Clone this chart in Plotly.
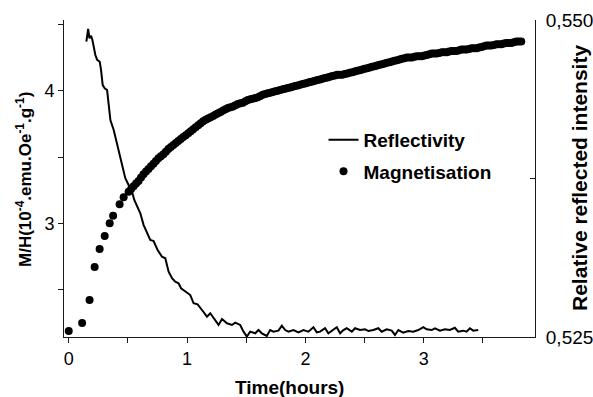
import plotly.graph_objects as go

# Magnetisation (left axis): time in hours, M/H in 1e-4 emu/Oe/g
mag_time = [0.000, 0.113, 0.176, 0.219, 0.261, 0.304, 0.346, 0.375, 0.430, 0.464, 0.506,
            0.527, 0.548, 0.569, 0.590, 0.611, 0.632, 0.653, 0.674, 0.695, 0.716, 0.737,
            0.758, 0.779, 0.800, 0.821, 0.842, 0.863, 0.884, 0.905, 0.926, 0.947, 0.968,
            0.989, 1.010, 1.031, 1.052, 1.073, 1.094, 1.115, 1.136, 1.157, 1.178, 1.199,
            1.220, 1.241, 1.262, 1.283, 1.304, 1.325, 1.346, 1.367, 1.388, 1.409, 1.430,
            1.451, 1.472, 1.493, 1.514, 1.535, 1.556, 1.577, 1.598, 1.619, 1.640, 1.661,
            1.682, 1.703, 1.724, 1.745, 1.766, 1.787, 1.808, 1.829, 1.850, 1.871, 1.892,
            1.913, 1.934, 1.955, 1.976, 1.997, 2.018, 2.039, 2.060, 2.081, 2.102, 2.123,
            2.144, 2.165, 2.186, 2.207, 2.228, 2.249, 2.270, 2.291, 2.312, 2.333, 2.354,
            2.375, 2.396, 2.417, 2.438, 2.459, 2.480, 2.501, 2.522, 2.543, 2.564, 2.585,
            2.606, 2.627, 2.648, 2.669, 2.690, 2.711, 2.732, 2.753, 2.774, 2.795, 2.816,
            2.837, 2.858, 2.879, 2.900, 2.921, 2.942, 2.963, 2.984, 3.005, 3.026, 3.047,
            3.068, 3.089, 3.110, 3.131, 3.152, 3.173, 3.194, 3.215, 3.236, 3.257, 3.278,
            3.299, 3.320, 3.341, 3.362, 3.383, 3.404, 3.425, 3.446, 3.467, 3.488, 3.509,
            3.530, 3.551, 3.572, 3.593, 3.614, 3.635, 3.656, 3.677, 3.698, 3.719, 3.740,
            3.761, 3.782, 3.803, 3.824]
mag_value = [2.188, 2.248, 2.422, 2.670, 2.806, 2.904, 3.000, 3.057, 3.143, 3.196, 3.238,
             3.259, 3.280, 3.300, 3.320, 3.345, 3.370, 3.390, 3.410, 3.430, 3.450, 3.470,
             3.490, 3.505, 3.520, 3.540, 3.560, 3.575, 3.590, 3.605, 3.620, 3.635, 3.650,
             3.665, 3.680, 3.695, 3.710, 3.725, 3.740, 3.755, 3.770, 3.780, 3.790, 3.800,
             3.810, 3.820, 3.830, 3.840, 3.850, 3.860, 3.870, 3.875, 3.880, 3.890, 3.900,
             3.905, 3.910, 3.920, 3.930, 3.935, 3.940, 3.945, 3.950, 3.960, 3.970, 3.975,
             3.980, 3.985, 3.990, 3.995, 4.000, 4.005, 4.010, 4.015, 4.020, 4.025, 4.030,
             4.035, 4.040, 4.045, 4.050, 4.055, 4.060, 4.065, 4.070, 4.075, 4.080, 4.085,
             4.090, 4.095, 4.100, 4.105, 4.110, 4.115, 4.120, 4.120, 4.120, 4.125, 4.130,
             4.135, 4.140, 4.145, 4.150, 4.155, 4.160, 4.165, 4.170, 4.175, 4.180, 4.185,
             4.190, 4.195, 4.200, 4.205, 4.210, 4.215, 4.220, 4.225, 4.230, 4.235, 4.240,
             4.245, 4.250, 4.250, 4.250, 4.255, 4.260, 4.260, 4.260, 4.265, 4.270, 4.275,
             4.280, 4.280, 4.280, 4.285, 4.290, 4.290, 4.290, 4.295, 4.300, 4.300, 4.300,
             4.305, 4.310, 4.310, 4.310, 4.315, 4.320, 4.320, 4.320, 4.325, 4.330, 4.335,
             4.340, 4.340, 4.340, 4.345, 4.350, 4.350, 4.350, 4.355, 4.360, 4.360, 4.360,
             4.365, 4.370, 4.370, 4.370]

# Reflectivity (right axis): time in hours, relative reflected intensity
refl_time = [0.149, 0.164, 0.175, 0.189, 0.200, 0.211, 0.225, 0.240, 0.262, 0.273, 0.287,
             0.304, 0.324, 0.338, 0.352, 0.380, 0.408, 0.436, 0.451, 0.478, 0.506, 0.535,
             0.554, 0.577, 0.605, 0.633, 0.667, 0.689, 0.717, 0.751, 0.788, 0.816, 0.844,
             0.873, 0.900, 0.928, 0.949, 0.985, 1.027, 1.055, 1.089, 1.126, 1.168, 1.196,
             1.238, 1.266, 1.295, 1.337, 1.379, 1.407, 1.449, 1.477, 1.505, 1.533, 1.576,
             1.603, 1.632, 1.674, 1.702, 1.730, 1.772, 1.801, 1.829, 1.857, 1.899, 1.941,
             1.983, 2.025, 2.068, 2.096, 2.124, 2.166, 2.194, 2.236, 2.265, 2.293, 2.321,
             2.349, 2.392, 2.419, 2.462, 2.504, 2.532, 2.574, 2.616, 2.645, 2.687, 2.729,
             2.757, 2.785, 2.827, 2.869, 2.911, 2.954, 2.996, 3.024, 3.067, 3.095, 3.137,
             3.179, 3.221, 3.263, 3.291, 3.333, 3.362, 3.390, 3.418, 3.460]
refl_value = [0.54829, 0.54929, 0.54856, 0.54876, 0.54842, 0.54789, 0.54724, 0.54685,
              0.54671, 0.54606, 0.54487, 0.54461, 0.54448, 0.54330, 0.54211, 0.54133,
              0.54028, 0.53922, 0.53870, 0.53752, 0.53699, 0.53646, 0.53581, 0.53528,
              0.53476, 0.53383, 0.53305, 0.53265, 0.53257, 0.53186, 0.53133, 0.53121,
              0.53015, 0.52963, 0.52936, 0.52924, 0.52884, 0.52857, 0.52831, 0.52766,
              0.52758, 0.52713, 0.52660, 0.52687, 0.52634, 0.52595, 0.52642, 0.52608,
              0.52595, 0.52613, 0.52595, 0.52542, 0.52503, 0.52542, 0.52529, 0.52555,
              0.52529, 0.52508, 0.52555, 0.52542, 0.52550, 0.52589, 0.52555, 0.52542,
              0.52555, 0.52537, 0.52555, 0.52542, 0.52577, 0.52537, 0.52542, 0.52569,
              0.52529, 0.52561, 0.52577, 0.52529, 0.52555, 0.52569, 0.52542, 0.52569,
              0.52555, 0.52561, 0.52547, 0.52555, 0.52569, 0.52542, 0.52561, 0.52550,
              0.52516, 0.52555, 0.52534, 0.52547, 0.52542, 0.52555, 0.52577, 0.52561,
              0.52555, 0.52569, 0.52550, 0.52561, 0.52555, 0.52573, 0.52542, 0.52550,
              0.52542, 0.52569, 0.52550, 0.52555]

x_ticks = [0, 1, 2, 3]
y_left_ticks = [3, 4]
y_right_ticks = [0.525, 0.550]
y_right_labels = ["0,525", "0,550"]

FONT = "Liberation Sans, Arial, sans-serif"
AX = "#1a1a1a"

fig = go.Figure()
fig.add_trace(go.Scatter(
    x=refl_time, y=refl_value, mode="lines", name="<b>Reflectivity</b>",
    line=dict(color="black", width=2), yaxis="y2", legendgroup="a"))
fig.add_trace(go.Scatter(
    x=mag_time, y=mag_value, mode="markers", name="<b>Magnetisation</b>",
    marker=dict(color="black", size=8), legendgroup="b"))

fig.update_layout(
    width=593, height=397,
    margin=dict(l=64, r=58, t=20, b=60, autoexpand=False),
    paper_bgcolor="white", plot_bgcolor="white",
    font=dict(family=FONT, size=18, color="black"),
    showlegend=True,
    legend=dict(x=0.551, y=0.682, xanchor="left", yanchor="top",
                bgcolor="rgba(0,0,0,0)", borderwidth=0,
                font=dict(family=FONT, size=19, color="black"),
                tracegroupgap=4),
    xaxis=dict(range=[-0.04, 3.94], tickvals=x_ticks, ticks="outside", ticklen=5,
               tickcolor=AX, showline=True, linecolor=AX, linewidth=1,
               showgrid=False, zeroline=False, automargin=False,
               minor=dict(dtick=0.5, tick0=0, ticks="outside", ticklen=5, tickcolor=AX)),
    xaxis2=dict(range=[0.5, 4.759], overlaying="x", side="top", anchor="y",
                tickvals=[1, 2, 3, 4], ticks="inside", ticklen=5, tickcolor=AX,
                showticklabels=False, showline=True, linecolor=AX, linewidth=1,
                showgrid=False, zeroline=False, automargin=False),
    yaxis=dict(range=[2.143, 4.533], tickvals=y_left_ticks, ticks="outside", ticklen=5,
               tickcolor=AX, showline=True, linecolor=AX, linewidth=1,
               showgrid=False, zeroline=False, automargin=False,
               minor=dict(dtick=0.5, tick0=0, ticks="outside", ticklen=5, tickcolor=AX)),
    yaxis2=dict(range=[0.525, 0.550], overlaying="y", side="right", anchor="x",
                tickvals=y_right_ticks, ticktext=y_right_labels, ticks="inside", ticklen=5,
                tickcolor=AX, showline=True, linecolor=AX, linewidth=1,
                showgrid=False, zeroline=False, automargin=False,
                tickfont=dict(size=19), ticklabelstandoff=6,
                minor=dict(tickvals=[0.5375], ticks="inside", ticklen=5, tickcolor=AX)),
    annotations=[
        dict(text="<b>Time(hours)</b>", xref="paper", yref="paper", x=0.479, y=-0.158,
             xanchor="center", yanchor="middle", showarrow=False,
             font=dict(family=FONT, size=19, color="black")),
        dict(text="<b>M/H(10<sup>-4</sup>.emu.Oe<sup>-1</sup>.g<sup>-1</sup>)</b>",
             xref="paper", yref="paper", x=-0.0849, y=0.4953, textangle=-90,
             xanchor="center", yanchor="middle", showarrow=False,
             font=dict(family=FONT, size=17, color="black")),
        dict(text="<b>Relative reflected intensity</b>", xref="paper", yref="paper",
             x=1.0955, y=0.5016, textangle=-90, xanchor="center", yanchor="middle",
             showarrow=False, font=dict(family=FONT, size=21, color="black")),
    ],
)

fig.write_html("out.html")
